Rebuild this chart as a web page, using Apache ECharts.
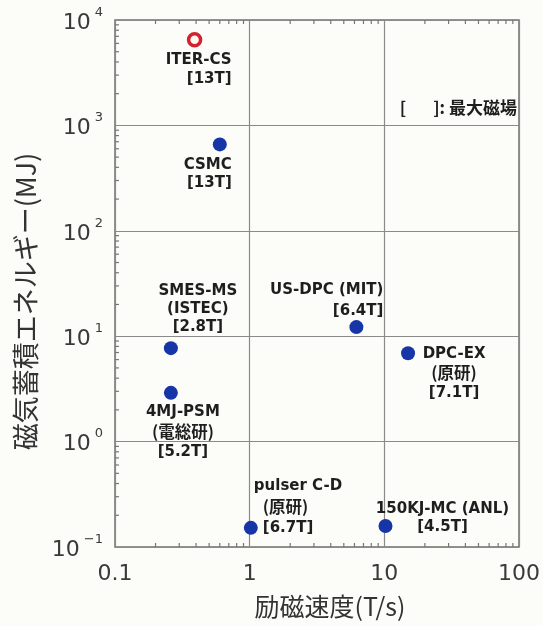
<!DOCTYPE html>
<html>
<head>
<meta charset="utf-8">
<script src="https://cdn.jsdelivr.net/npm/echarts@6/dist/echarts.min.js"></script>
<style>
  html, body { margin: 0; padding: 0; background: #fcfcf8; }
  #chart { width: 543px; height: 626px; }
</style>
</head>
<body>
<div id="chart"></div>
<script>
// Superconducting pulse coils: ramp rate vs. stored magnetic energy
const devices = ['ITER-CS', 'CSMC', 'SMES-MS', '4MJ-PSM', 'US-DPC (MIT)', 'DPC-EX', 'pulser C-D', '150KJ-MC (ANL)'];
const institutes = ['', '', '(ISTEC)', '(電総研)', '', '(原研)', '(原研)', ''];
const maxField = ['13T', '13T', '2.8T', '5.2T', '6.4T', '7.1T', '6.7T', '4.5T'];
const rampRate = [0.39, 0.60, 0.26, 0.26, 6.2, 15, 1.02, 10.2];      // T/s
const storedEnergy = [6500, 660, 7.7, 2.9, 12.2, 6.9, 0.152, 0.158]; // MJ
const planned = [true, false, false, false, false, false, false, false];

const xTicks = [0.1, 1, 10, 100];
const yTicks = [0.1, 1, 10, 100, 1000, 10000];

// label placement relative to each marker: [dx, dy, align, lineHeight]
const labelLayout = [
  [37, 30, 'right', 19],
  [12, 30, 'right', 18],
  [27, -39, 'center', 18],
  [12, 39, 'center', 20],
  [27, -26, 'right', 21],
  [46, 20, 'center', 19.5],
  [3, -21, 'left', 21],
  [57, -8, 'center', 18]
];

const X_MIN = xTicks[0], X_MAX = xTicks[xTicks.length - 1];
const Y_MIN = yTicks[0], Y_MAX = yTicks[yTicks.length - 1];

// 2..9 subdivisions of every decade for the minor tick marks
function minorValues(lo, hi) {
  const out = [];
  for (let d = lo; d < hi * 0.999; d *= 10) {
    for (let k = 2; k <= 9; k++) out.push(+(d * k).toPrecision(6));
  }
  return out;
}
const xMinor = minorValues(X_MIN, X_MAX);
const yMinor = minorValues(Y_MIN, Y_MAX);

// one row per minor tick: [x, y, side] (side 0 = x axis, 1 = y axis)
const tickRows = xMinor.map(v => [v, 1, 0]).concat(yMinor.map(v => [1, v, 1]));

const BLUE = '#1636a8';
const RED = '#d2222e';
const INK = '#1e1e1e';
const TICK_LEN = 4;

function hasCJK(t) { return /[\u3000-\u9fff]/.test(t); }

function labelText(i) {
  const lines = [devices[i]];
  if (institutes[i]) lines.push(institutes[i]);
  lines.push('[' + maxField[i] + ']');
  const indent = i === 6;
  return lines.map((t, k) => {
    let key = hasCJK(t) ? 'j' : 'a';
    if (indent && k > 0) key += 'i';
    return '{' + key + '|' + t + '}';
  }).join('\n');
}

function labelRich(lay) {
  const base = { fontFamily: 'DejaVu Sans', fontWeight: 'bold', fontSize: 15, color: INK, lineHeight: lay[3], align: lay[2], textBorderWidth: 0 };
  const cjk = Object.assign({}, base, { fontFamily: 'Noto Sans CJK JP', fontSize: 16.5 });
  return {
    a: base,
    j: cjk,
    ai: Object.assign({}, base, { padding: [0, 0, 0, 9] }),
    ji: Object.assign({}, cjk, { padding: [0, 0, 0, 9] })
  };
}

const pointData = rampRate.map((x, i) => {
  const lay = labelLayout[i];
  return {
    name: devices[i],
    value: [x, storedEnergy[i]],
    symbolSize: planned[i] ? 12 : 14,
    itemStyle: planned[i]
      ? { color: '#fff8f0', borderColor: RED, borderWidth: 3.5, opacity: 1 }
      : { color: BLUE, borderWidth: 0, opacity: 1 },
    label: {
      show: true,
      position: 'inside',
      offset: [lay[0], lay[1]],
      align: lay[2],
      verticalAlign: 'middle',
      color: INK,
      textBorderWidth: 0,
      formatter: labelText(i),
      rich: labelRich(lay)
    }
  };
});

function powerLabel(v) {
  const e = Math.round(Math.log10(v));
  return '{b|10}{s|' + (e < 0 ? '\u2212' + (-e) : e) + '}';
}

const chart = echarts.init(document.getElementById('chart'), null, { renderer: 'canvas' });

chart.setOption({
  backgroundColor: '#fcfcf8',
  animation: false,
  grid: {
    left: 115, right: 21, top: 20, bottom: 79,
    show: true, borderColor: '#6f6f6f', borderWidth: 1.5, backgroundColor: 'transparent'
  },
  xAxis: {
    type: 'log', logBase: 10, min: X_MIN, max: X_MAX,
    axisLine: { show: false },
    axisTick: { show: false },
    splitLine: { show: true, lineStyle: { color: '#8a8a8a', width: 1.2 } },
    axisLabel: {
      margin: 16,
      fontFamily: 'DejaVu Sans', fontSize: 22, color: '#3a3a3a',
      formatter: v => String(v),
      customValues: xTicks
    },
    name: '励磁速度(T/s)',
    nameLocation: 'middle',
    nameGap: 47,
    nameTextStyle: { fontFamily: 'Noto Sans CJK JP', fontSize: 25, color: '#333', padding: [0, 0, 0, 26] }
  },
  yAxis: {
    type: 'log', logBase: 10, min: Y_MIN, max: Y_MAX,
    axisLine: { show: false },
    axisTick: { show: false },
    splitLine: { show: true, lineStyle: { color: '#8a8a8a', width: 1.2 } },
    axisLabel: {
      margin: 12,
      customValues: yTicks,
      formatter: powerLabel,
      rich: {
        b: { fontFamily: 'DejaVu Sans', fontSize: 22, color: '#3a3a3a', lineHeight: 28, verticalAlign: 'bottom' },
        s: { fontFamily: 'DejaVu Sans', fontSize: 13, color: '#3a3a3a', lineHeight: 28, verticalAlign: 'top', padding: [0, 0, 0, 4] }
      }
    },
    name: '磁気蓄積エネルギー(MJ)',
    nameLocation: 'middle',
    nameGap: 76,
    nameTextStyle: { fontFamily: 'Noto Sans CJK JP', fontSize: 27, color: '#333', padding: [0, 36, 0, 0] }
  },
  graphic: [{
    type: 'text',
    right: 26, top: 99,
    style: {
      text: '[       ]: 最大磁場',
      font: 'bold 17px "Noto Sans CJK JP"',
      fill: INK
    }
  }],
  series: [
    {
      type: 'custom',
      coordinateSystem: 'cartesian2d',
      silent: true,
      z: 1,
      encode: { x: 0, y: 1 },
      data: tickRows,
      renderItem: (params, api) => {
        const st = { stroke: '#777', lineWidth: 1.2 };
        if (api.value(2) === 0) {
          const v = api.value(0);
          const b = api.coord([v, Y_MIN]);
          const t = api.coord([v, Y_MAX]);
          return {
            type: 'group',
            children: [
              { type: 'line', shape: { x1: b[0], y1: b[1], x2: b[0], y2: b[1] - TICK_LEN }, style: st },
              { type: 'line', shape: { x1: t[0], y1: t[1], x2: t[0], y2: t[1] + TICK_LEN }, style: st }
            ]
          };
        }
        const l = api.coord([X_MIN, api.value(1)]);
        return {
          type: 'line',
          shape: { x1: l[0], y1: l[1], x2: l[0] + TICK_LEN, y2: l[1] },
          style: st
        };
      }
    },
    {
      type: 'scatter',
      z: 3,
      symbol: 'circle',
      data: pointData
    }
  ]
});
</script>
</body>
</html>
